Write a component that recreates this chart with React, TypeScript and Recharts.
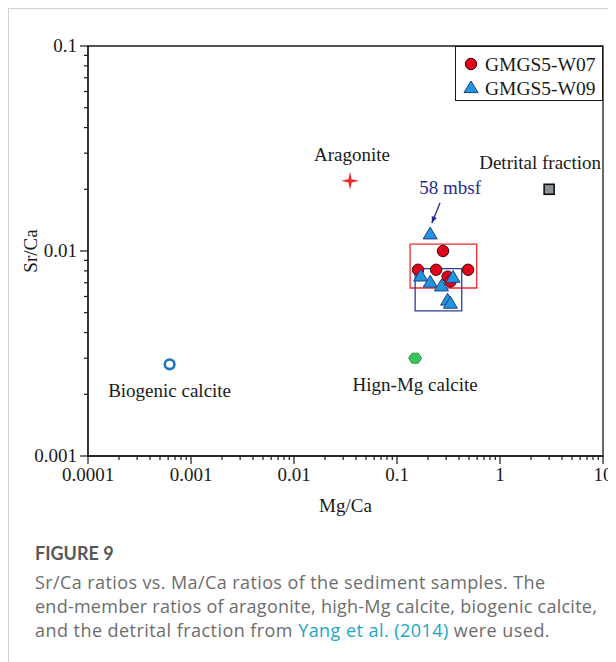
import {
  ScatterChart,
  Scatter,
  XAxis,
  YAxis,
  ReferenceArea,
  ReferenceLine,
  Legend,
} from "recharts";

// GMGS5-W07 samples (Mg/Ca, Sr/Ca)
const w07Mg = [0.28, 0.16, 0.24, 0.49, 0.31, 0.33];
const w07Sr = [0.01, 0.0081, 0.0081, 0.0081, 0.0075, 0.0071];

// GMGS5-W09 samples
const w09Mg = [0.21, 0.17, 0.21, 0.27, 0.35, 0.31, 0.33];
const w09Sr = [0.0122, 0.0076, 0.0071, 0.0068, 0.0075, 0.0058, 0.0056];

// end-member ratios (Yang et al., 2014)
const endNames = ["Aragonite", "Detrital fraction", "Biogenic calcite", "Hign-Mg calcite"];
const endMg = [0.035, 3.0, 0.00062, 0.15];
const endSr = [0.022, 0.02, 0.0028, 0.003];

// sample clusters
const w07BoxMg = [0.134, 0.594];
const w07BoxSr = [0.0066, 0.0108];
const w09BoxMg = [0.15, 0.425];
const w09BoxSr = [0.0051, 0.0082];

// arrow to the 58 mbsf sample
const arrowMg = [0.262, 0.218];
const arrowSr = [0.0172, 0.0137];

const xMajor = [0.0001, 0.001, 0.01, 0.1, 1, 10];
const xLabels = ["0.0001", "0.001", "0.01", "0.1", "1", "10"];
const yMajor = [0.001, 0.01, 0.1];
const yLabels = ["0.001", "0.01", "0.1"];

const SERIF = "'Liberation Serif', 'Times New Roman', serif";
const INK = "#1a1a1a";
const RED = "#e4001b";
const BLUE = "#2196dc";
const NAVY = "#1f2c8f";

// majors plus 2..9 minor ticks for each decade
const withMinors = (majors: number[]) => {
  const out: number[] = [];
  majors.forEach((m, i) => {
    out.push(m);
    if (i < majors.length - 1) for (let k = 2; k <= 9; k++) out.push(m * k);
  });
  return out;
};

const majorIndex = (majors: number[], v: number) =>
  majors.findIndex((m) => Math.abs(m - v) < m * 1e-6);

const w07 = w07Mg.map((mg, i) => ({ mg, sr: w07Sr[i] }));
const w09 = w09Mg.map((mg, i) => ({ mg, sr: w09Sr[i] }));
const ends = endNames.map((name, i) => ({ name, mg: endMg[i], sr: endSr[i] }));

function XTick(props: any) {
  const { x, y, payload } = props;
  const i = majorIndex(xMajor, payload.value);
  return (
    <g>
      <line x1={x} x2={x} y1={y} y2={y + (i >= 0 ? 8 : 4)} stroke={INK} strokeWidth={1.2} />
      {i >= 0 && (
        <text x={x} y={y + 25} textAnchor="middle" fontSize={19} fontFamily={SERIF} fill={INK}>
          {xLabels[i]}
        </text>
      )}
    </g>
  );
}

function YTick(props: any) {
  const { x, y, payload } = props;
  const i = majorIndex(yMajor, payload.value);
  return (
    <g>
      <line x1={x - (i >= 0 ? 8 : 4)} x2={x} y1={y} y2={y} stroke={INK} strokeWidth={1.2} />
      {i >= 0 && (
        <text x={x - 11} y={y + 6} textAnchor="end" fontSize={19} fontFamily={SERIF} fill={INK}>
          {yLabels[i]}
        </text>
      )}
    </g>
  );
}

const Dot = ({ cx, cy }: any) => (
  <circle cx={cx} cy={cy} r={5.7} fill={RED} stroke="#3a0a0a" strokeWidth={1} />
);

const Tri = ({ cx, cy }: any) => (
  <path
    d={`M${cx},${cy - 6.2} L${cx + 7},${cy + 5.6} L${cx - 7},${cy + 5.6} Z`}
    fill={BLUE}
    stroke="#1b3f8e"
    strokeWidth={1}
  />
);

const labelText = (x: number, y: number, s: string) => (
  <text x={x} y={y} textAnchor="middle" fontSize={19} fontFamily={SERIF} fill={INK}>
    {s}
  </text>
);

// end-member markers, each with its name
function EndMember(props: any) {
  const { cx, cy, payload } = props;
  switch (payload.name) {
    case "Aragonite":
      return (
        <g>
          <path
            d={`M${cx},${cy - 9} L${cx + 1.6},${cy - 1.6} L${cx + 9},${cy} L${cx + 1.6},${cy + 1.6} L${cx},${cy + 9} L${cx - 1.6},${cy + 1.6} L${cx - 9},${cy} L${cx - 1.6},${cy - 1.6} Z`}
            fill="#f0262c"
          />
          {labelText(cx + 2, cy - 20, payload.name)}
        </g>
      );
    case "Detrital fraction":
      return (
        <g>
          <rect x={cx - 5} y={cy - 5} width={10} height={10} fill="#8a9199" stroke="#111" strokeWidth={1.6} />
          {labelText(cx - 9, cy - 20, payload.name)}
        </g>
      );
    case "Biogenic calcite":
      return (
        <g>
          <circle cx={cx} cy={cy} r={4.8} fill="#fff" stroke="#1a78c2" strokeWidth={2.6} />
          {labelText(cx, cy + 33, payload.name)}
        </g>
      );
    default:
      return (
        <g>
          <path
            d={`M${cx - 6.5},${cy} L${cx - 3.2},${cy - 5} L${cx + 3.2},${cy - 5} L${cx + 6.5},${cy} L${cx + 3.2},${cy + 5} L${cx - 3.2},${cy + 5} Z`}
            fill="#3cc35e"
            stroke="#2a9a46"
            strokeWidth={1}
          />
          {labelText(cx, cy + 33, payload.name)}
        </g>
      );
  }
}

function Arrow(props: any) {
  const { x1, y1, x2, y2 } = props;
  const a = Math.atan2(y2 - y1, x2 - x1);
  const h = 7;
  const p1 = [x2 - h * Math.cos(a - 0.4), y2 - h * Math.sin(a - 0.4)];
  const p2 = [x2 - h * Math.cos(a + 0.4), y2 - h * Math.sin(a + 0.4)];
  return (
    <g>
      <line x1={x1} y1={y1} x2={x2} y2={y2} stroke={NAVY} strokeWidth={1.3} />
      <path d={`M${x2},${y2} L${p1[0]},${p1[1]} L${p2[0]},${p2[1]} Z`} fill={NAVY} />
      <text x={x1 + 10} y={y1 - 9} textAnchor="middle" fontSize={19} fontFamily={SERIF} fill={NAVY}>
        58 mbsf
      </text>
    </g>
  );
}

function LegendBox() {
  return (
    <div
      style={{
        width: 148,
        height: 55,
        boxSizing: "border-box",
        border: `1px solid ${INK}`,
        background: "#fff",
      }}
    >
      <svg width={146} height={53} style={{ display: "block" }}>
        <circle cx={15} cy={17} r={5.7} fill={RED} stroke="#3a0a0a" strokeWidth={1} />
        <text x={29} y={23.5} fontSize={19.5} fontFamily={SERIF} fill={INK}>
          GMGS5-W07
        </text>
        <path d="M15,34 L22,45.6 L8,45.6 Z" fill={BLUE} stroke="#1b3f8e" strokeWidth={1} />
        <text x={29} y={47.5} fontSize={19.5} fontFamily={SERIF} fill={INK}>
          GMGS5-W09
        </text>
      </svg>
    </div>
  );
}

function SrLabel(props: any) {
  const { viewBox } = props;
  const cx = 21;
  const cy = viewBox.y + viewBox.height / 2;
  return (
    <text
      x={cx}
      y={cy}
      transform={`rotate(-90 ${cx} ${cy})`}
      textAnchor="middle"
      dominantBaseline="central"
      fontSize={19}
      fontFamily={SERIF}
      fill={INK}
    >
      Sr/Ca
    </text>
  );
}

export default function App() {
  return (
    <div
      style={{
        width: 608,
        height: 654,
        boxSizing: "border-box",
        borderTop: "1px solid #d2d2d2",
        borderLeft: "1px solid #d2d2d2",
        background: "#fff",
      }}
    >
      <style>{"html, body { overflow: hidden; }"}</style>
      <ScatterChart
        width={607}
        height={515}
        margin={{ top: 37, right: 13, bottom: 8, left: 0 }}
        style={{ overflow: "visible" }}
      >
        <XAxis
          type="number"
          dataKey="mg"
          scale="log"
          domain={[0.0001, 10]}
          allowDataOverflow
          ticks={withMinors(xMajor)}
          interval={0}
          tickSize={0}
          tickMargin={0}
          tickLine={false}
          tick={<XTick />}
          axisLine={{ stroke: INK, strokeWidth: 1.3 }}
          height={60}
          label={{
            value: "Mg/Ca",
            position: "insideBottom",
            offset: 4,
            style: { fontSize: 19, fontFamily: SERIF, fill: INK },
          }}
        />
        <YAxis
          type="number"
          dataKey="sr"
          scale="log"
          domain={[0.001, 0.1]}
          allowDataOverflow
          ticks={withMinors(yMajor)}
          interval={0}
          tickSize={0}
          tickMargin={0}
          tickLine={false}
          tick={<YTick />}
          axisLine={{ stroke: INK, strokeWidth: 1.3 }}
          width={79}
          label={<SrLabel />}
        />
        {/* plot frame */}
        <ReferenceArea
          x1={0.0001}
          x2={10}
          y1={0.001}
          y2={0.1}
          fill="none"
          fillOpacity={0}
          stroke={INK}
          strokeWidth={1.3}
          ifOverflow="visible"
        />
        <ReferenceArea
          x1={w07BoxMg[0]}
          x2={w07BoxMg[1]}
          y1={w07BoxSr[0]}
          y2={w07BoxSr[1]}
          fill="none"
          fillOpacity={0}
          stroke="#ee2a2f"
          strokeWidth={1.3}
        />
        <ReferenceArea
          x1={w09BoxMg[0]}
          x2={w09BoxMg[1]}
          y1={w09BoxSr[0]}
          y2={w09BoxSr[1]}
          fill="none"
          fillOpacity={0}
          stroke="#2b3b9c"
          strokeWidth={1.3}
        />
        <ReferenceLine
          segment={[
            { x: arrowMg[0], y: arrowSr[0] },
            { x: arrowMg[1], y: arrowSr[1] },
          ]}
          shape={<Arrow />}
        />
        <Scatter name="ends" data={ends} shape={<EndMember />} isAnimationActive={false} legendType="none" />
        <Scatter name="GMGS5-W07" data={w07} shape={<Dot />} isAnimationActive={false} />
        <Scatter name="GMGS5-W09" data={w09} shape={<Tri />} isAnimationActive={false} />
        <Legend
          layout="horizontal"
          align="center"
          verticalAlign="middle"
          content={<LegendBox />}
          wrapperStyle={{ top: 37, left: 446, width: 148, height: 55 }}
        />
      </ScatterChart>
      <div
        style={{
          marginTop: 17,
          paddingLeft: 26,
          fontFamily: "'Open Sans', Lato, sans-serif",
          color: "#6d6d6d",
          fontSize: 18,
          lineHeight: "24px",
          whiteSpace: "nowrap",
        }}
      >
        <div style={{ fontFamily: "Lato, sans-serif", fontSize: 18, fontWeight: 700, color: "#585858", marginBottom: 5 }}>
          FIGURE 9
        </div>
        <div style={{ letterSpacing: 0.4 }}>Sr/Ca ratios vs. Ma/Ca ratios of the sediment samples. The</div>
        <div style={{ letterSpacing: 0.25 }}>end-member ratios of aragonite, high-Mg calcite, biogenic calcite,</div>
        <div style={{ letterSpacing: 0.45 }}>
          and the detrital fraction from{" "}
          <span style={{ color: "#1aa6c8" }}>Yang et al. (2014)</span> were used.
        </div>
      </div>
    </div>
  );
}
